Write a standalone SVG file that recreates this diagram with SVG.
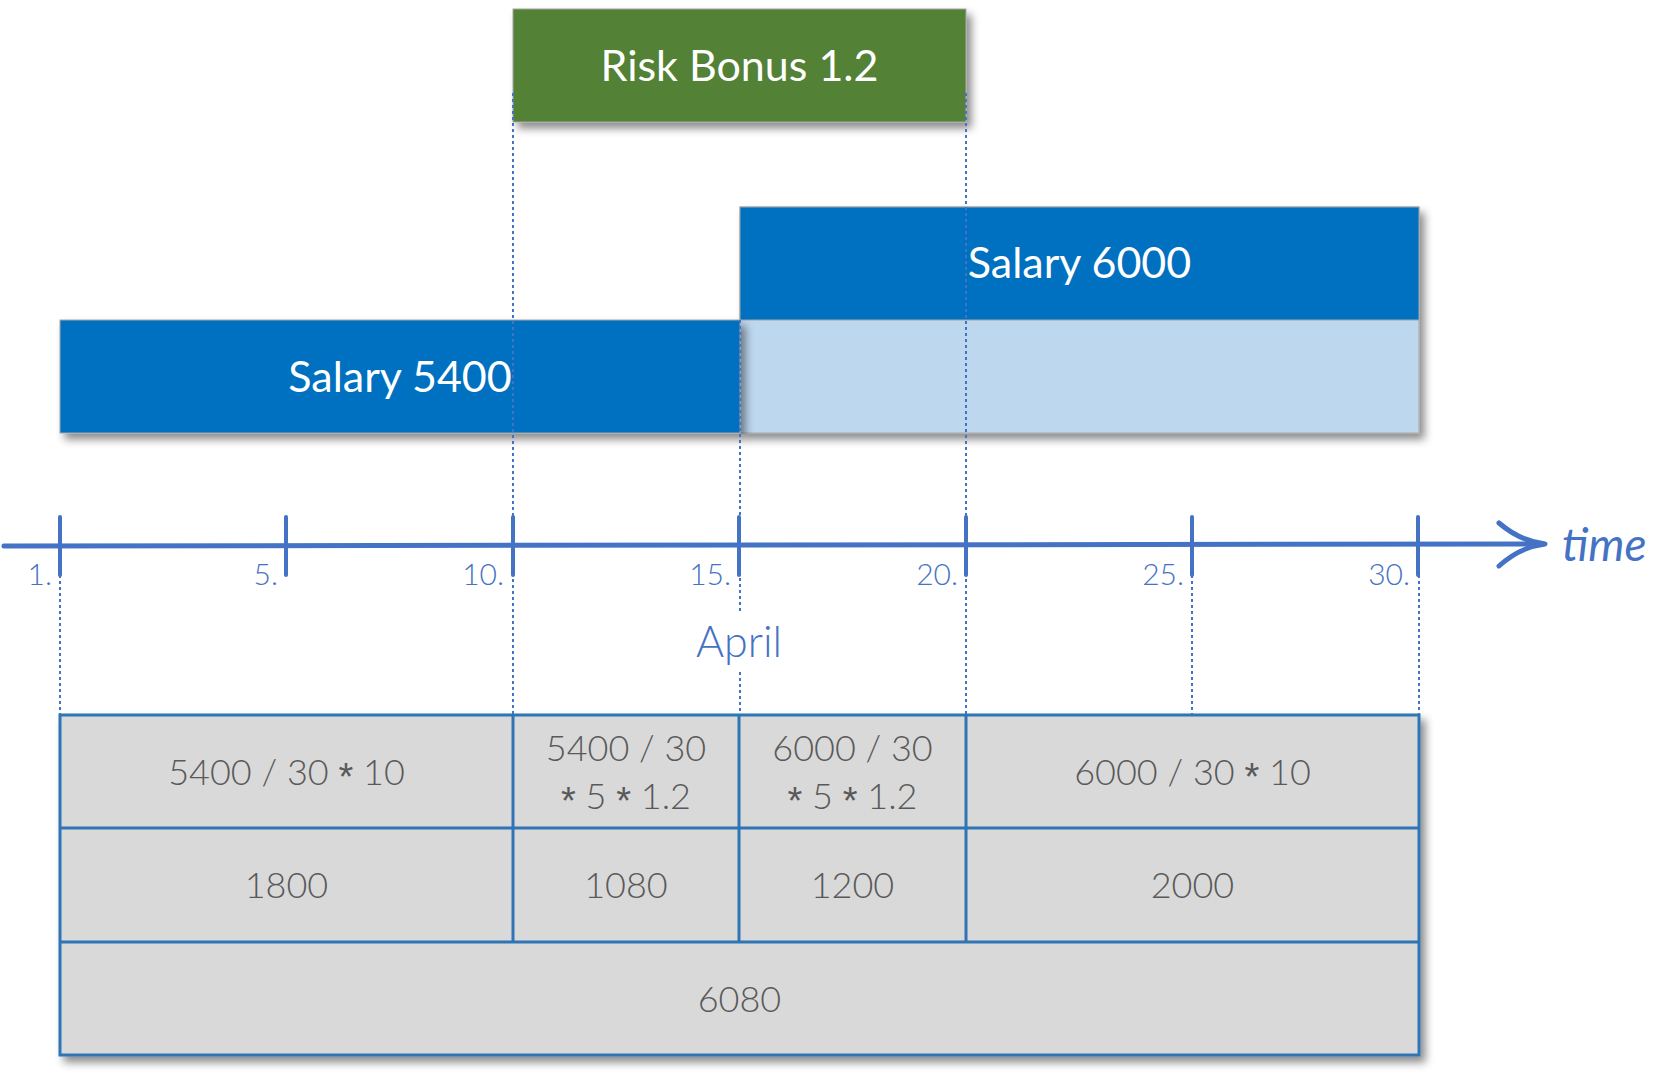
<svg xmlns="http://www.w3.org/2000/svg" width="1674" height="1082" viewBox="0 0 1674 1082">
<defs>
<filter id="sh" x="-5%" y="-10%" width="115%" height="130%">
<feDropShadow dx="5" dy="6" stdDeviation="4" flood-color="#000" flood-opacity="0.45"/>
</filter>
<style>
.box{stroke:#A6A6A6;stroke-width:1}
.lbl{font-family:Lato,"Open Sans","Liberation Sans",sans-serif;font-size:43px;fill:#fff;text-anchor:middle}
.tick{stroke:#4472C4;stroke-width:4;stroke-linecap:round}
.tl{font-family:Lato,"Open Sans","Liberation Sans",sans-serif;font-weight:300;font-size:30px;fill:#4472C4;text-anchor:end}
.dot{stroke:#4472C4;stroke-width:2;stroke-dasharray:3 3;fill:none}
.cell{fill:#D9D9D9;stroke:#2F75B5;stroke-width:3}
.ct{font-family:Lato,"Open Sans","Liberation Sans",sans-serif;font-weight:300;font-size:36px;fill:#595959;text-anchor:middle}
.as{font-family:"Liberation Sans",sans-serif;font-weight:400;font-size:38px}
</style>
</defs>
<rect width="1674" height="1082" fill="#fff"/>
<g id="risk-bonus">
<rect class="box" x="513" y="9" width="453" height="113" fill="#538135" filter="url(#sh)"/>
<text class="lbl" x="739.5" y="81">Risk Bonus 1.2</text>
</g>
<g id="salary-6000">
<rect class="box" x="740" y="207" width="679" height="226" fill="#BDD7EE" filter="url(#sh)"/>
<rect class="box" x="740" y="207" width="679" height="113" fill="#0070C0"/>
<text class="lbl" x="1079.5" y="278">Salary 6000</text>
</g>
<g id="salary-5400">
<rect class="box" x="60" y="320" width="680" height="113" fill="#0070C0" filter="url(#sh)"/>
<text class="lbl" x="400" y="392">Salary 5400</text>
</g>
<g id="table">
<rect class="cell" x="60" y="715" width="1359" height="340" filter="url(#sh)"/>
<line class="cell" x1="60" y1="828" x2="1419" y2="828"/>
<line class="cell" x1="60" y1="942" x2="1419" y2="942"/>
<line class="cell" x1="513" y1="715" x2="513" y2="942"/>
<line class="cell" x1="739" y1="715" x2="739" y2="942"/>
<line class="cell" x1="966" y1="715" x2="966" y2="942"/>
<text class="ct" x="286.5" y="785">5400 / 30 <tspan class="as" dy="5">*</tspan><tspan dy="-5"> 10</tspan></text>
<text class="ct" x="626" y="761">5400 / 30</text>
<text class="ct" x="626" y="809"><tspan class="as" dy="5">*</tspan><tspan dy="-5"> 5 </tspan><tspan class="as" dy="5">*</tspan><tspan dy="-5"> 1.2</tspan></text>
<text class="ct" x="852.5" y="761">6000 / 30</text>
<text class="ct" x="852.5" y="809"><tspan class="as" dy="5">*</tspan><tspan dy="-5"> 5 </tspan><tspan class="as" dy="5">*</tspan><tspan dy="-5"> 1.2</tspan></text>
<text class="ct" x="1192.5" y="785">6000 / 30 <tspan class="as" dy="5">*</tspan><tspan dy="-5"> 10</tspan></text>
<text class="ct" x="286.5" y="898">1800</text>
<text class="ct" x="626" y="898">1080</text>
<text class="ct" x="852.5" y="898">1200</text>
<text class="ct" x="1192.5" y="898">2000</text>
<text class="ct" x="739.5" y="1012">6080</text>
</g>
<g id="axis">
<line x1="4" y1="546" x2="1543" y2="544" stroke="#4472C4" stroke-width="5" stroke-linecap="round"/>
<path d="M1499,523 Q1520,541 1545,544 Q1520,547 1499,566" fill="none" stroke="#4472C4" stroke-width="5" stroke-linecap="round" stroke-linejoin="round"/>
<text x="1562" y="561" font-family="Lato,'Open Sans','Liberation Sans',sans-serif" font-style="italic" font-size="46" fill="#4472C4">time</text>
<line class="tick" x1="60" y1="517" x2="60" y2="575"/>
<line class="tick" x1="286" y1="517" x2="286" y2="575"/>
<line class="tick" x1="513" y1="517" x2="513" y2="575"/>
<line class="tick" x1="739" y1="517" x2="739" y2="575"/>
<line class="tick" x1="966" y1="517" x2="966" y2="575"/>
<line class="tick" x1="1192" y1="517" x2="1192" y2="575"/>
<line class="tick" x1="1418" y1="517" x2="1418" y2="575"/>
<text class="tl" x="52" y="585">1.</text>
<text class="tl" x="278" y="585">5.</text>
<text class="tl" x="504" y="585">10.</text>
<text class="tl" x="731" y="585">15.</text>
<text class="tl" x="958" y="585">20.</text>
<text class="tl" x="1184" y="585">25.</text>
<text class="tl" x="1410" y="585">30.</text>
<text x="739" y="657" font-family="Lato,'Open Sans','Liberation Sans',sans-serif" font-weight="300" font-size="43" fill="#4472C4" text-anchor="middle">April</text>
</g>
<g id="connectors">
<line class="dot" x1="513" y1="93" x2="513" y2="714"/>
<line class="dot" x1="966" y1="93" x2="966" y2="714"/>
<line class="dot" x1="740" y1="320" x2="740" y2="613"/>
<line class="dot" x1="740" y1="672" x2="740" y2="714"/>
<line class="dot" x1="60" y1="575" x2="60" y2="714"/>
<line class="dot" x1="1192" y1="575" x2="1192" y2="714"/>
<line class="dot" x1="1419" y1="575" x2="1419" y2="714"/>
</g>
</svg>
